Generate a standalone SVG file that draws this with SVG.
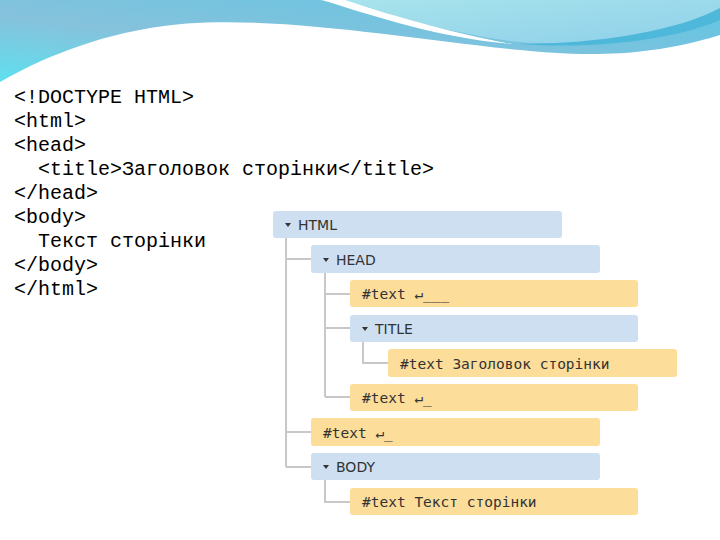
<svg xmlns="http://www.w3.org/2000/svg" width="720" height="540" viewBox="0 0 720 540">
<style>
.code{font-family:"Liberation Mono",monospace;font-size:20px;fill:#000}
.t{font-family:"DejaVu Sans Mono",monospace;font-size:14.5px;fill:#333}
.tag{font-family:"DejaVu Sans",sans-serif;font-size:14px;fill:#333}
.el{fill:#cddff1}
.tx{fill:#fcdd9a}
.ln{stroke:#c8c8c8;stroke-width:2;fill:none}
.tri{fill:#333}
</style>
<defs>
<linearGradient id="g" x1="0" y1="1" x2="1" y2="0">
<stop offset="0" stop-color="#5ee0ee"/><stop offset="0.4" stop-color="#86c2dc"/><stop offset="1" stop-color="#5fc5e3"/>
</linearGradient>
<linearGradient id="g2" x1="0" y1="0" x2="1" y2="1">
<stop offset="0" stop-color="#a8e4ec"/><stop offset="1" stop-color="#8fd0ea"/>
</linearGradient>
</defs>
<rect width="720" height="540" fill="#fff"/>
<path d="M0,0 H720 V35 C640,60 570,55 520,50 C400,38 250,10 150,28 C80,40 30,65 0,82 Z" fill="url(#g)"/>
<path d="M320,0 H720 V10 C680,35 600,48 520,42 C450,35 380,10 320,0 Z" fill="url(#g2)"/>
<path d="M322,0 C380,18 440,38 512,44 C450,33 380,12 345,0 Z" fill="#fff"/>
<path d="M520,44 C600,44 680,30 720,8 V20 C680,38 600,50 520,44 Z" fill="#4eb8da"/>
<g id="code">
<text class="code" x="14" y="103">&lt;!DOCTYPE HTML&gt;</text>
<text class="code" x="14" y="127">&lt;html&gt;</text>
<text class="code" x="14" y="151">&lt;head&gt;</text>
<text class="code" x="38" y="175">&lt;title&gt;Заголовок сторінки&lt;/title&gt;</text>
<text class="code" x="14" y="199">&lt;/head&gt;</text>
<text class="code" x="14" y="223">&lt;body&gt;</text>
<text class="code" x="38" y="247">Текст сторінки</text>
<text class="code" x="14" y="271">&lt;/body&gt;</text>
<text class="code" x="14" y="295">&lt;/html&gt;</text>
</g>
<g id="connectors">
<path class="ln" d="M286,238 V467 M286,259 H311 M286,432 H311 M286,467 H311"/>
<path class="ln" d="M325,273 V397 M325,294 H350 M325,328 H350 M325,397 H350"/>
<path class="ln" d="M363,342 V363 H388"/>
<path class="ln" d="M325,480 V502 H350"/>
</g>
<g id="html"><rect class="el" x="273" y="211" width="289" height="27" rx="3"/><path class="tri" d="M285,223 h6 l-3,4 z"/><text class="tag" x="298" y="230">HTML</text></g>
<g id="head"><rect class="el" x="311" y="245" width="289" height="28" rx="3"/><path class="tri" d="M323,258 h6 l-3,4 z"/><text class="tag" x="336" y="265">HEAD</text></g>
<g id="text1"><rect class="tx" x="350" y="280" width="288" height="27" rx="3"/><text class="t" x="362" y="299">#text ↵___</text></g>
<g id="title"><rect class="el" x="350" y="315" width="288" height="27" rx="3"/><path class="tri" d="M362,327 h6 l-3,4 z"/><text class="tag" x="375" y="334">TITLE</text></g>
<g id="text2"><rect class="tx" x="388" y="349" width="289" height="28" rx="3"/><text class="t" x="400" y="369">#text Заголовок сторінки</text></g>
<g id="text3"><rect class="tx" x="350" y="384" width="288" height="27" rx="3"/><text class="t" x="362" y="403">#text ↵_</text></g>
<g id="text4"><rect class="tx" x="311" y="418" width="289" height="28" rx="3"/><text class="t" x="323" y="438">#text ↵_</text></g>
<g id="body"><rect class="el" x="311" y="453" width="289" height="27" rx="3"/><path class="tri" d="M323,465 h6 l-3,4 z"/><text class="tag" x="336" y="472">BODY</text></g>
<g id="text5"><rect class="tx" x="350" y="488" width="288" height="27" rx="3"/><text class="t" x="362" y="507">#text Текст сторінки</text></g>
</svg>
